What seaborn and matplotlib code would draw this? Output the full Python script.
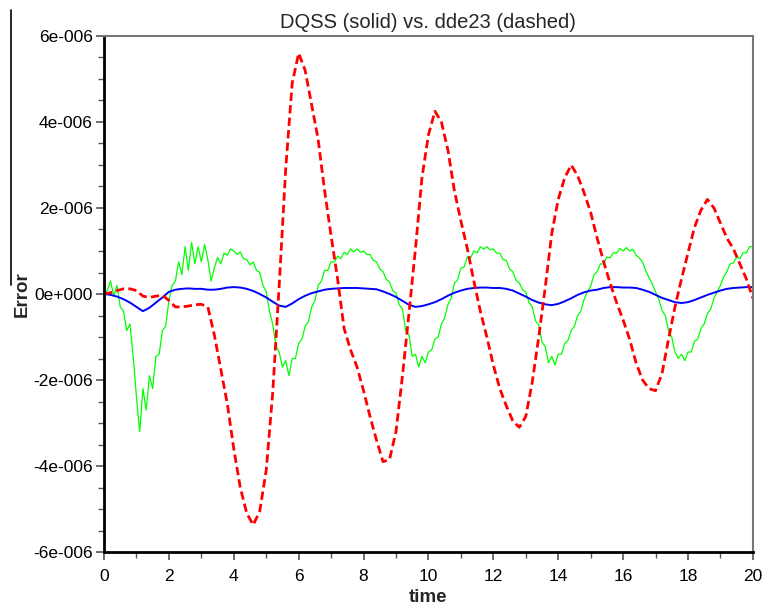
import numpy as np
import seaborn as sns
import matplotlib.pyplot as plt
from matplotlib.ticker import MultipleLocator, FuncFormatter
from matplotlib.lines import Line2D

# time grids
t_coarse = np.round(np.arange(0, 20.0001, 0.2), 2)
t_fine = np.round(np.arange(0, 20.0001, 0.1), 2)

# dde23 error (dashed, red), units of 1e-6, every 0.2
dde23_err = [0, 0.03, 0.08, 0.12, 0.12, 0.08, -0.05, -0.08, -0.05, -0.03,
             -0.15, -0.3, -0.3, -0.28, -0.25, -0.24, -0.3, -0.95, -1.75, -2.55,
             -3.6, -4.5, -5.1, -5.37, -5.05, -4.1, -2.3, 0.2, 2.9, 4.9,
             5.6, 5.2, 4.4, 3.6, 2.4, 1.35, 0.35, -0.8, -1.3, -1.7,
             -2.25, -2.85, -3.4, -3.9, -3.85, -3.2, -1.9, -0.45, 1.05, 2.7,
             3.7, 4.25, 4.0, 3.35, 2.4, 1.7, 1.05, 0.3, -0.4, -1.0,
             -1.65, -2.2, -2.6, -2.95, -3.1, -2.85, -2.05, -1.0, 0.15, 1.4,
             2.2, 2.7, 3.0, 2.75, 2.35, 1.9, 1.3, 0.75, 0.25, -0.2,
             -0.6, -1.05, -1.6, -2.0, -2.2, -2.25, -1.85, -1.05, -0.3, 0.35,
             0.95, 1.55, 1.95, 2.2, 2.0, 1.65, 1.3, 1.05, 0.7, 0.35,
             -0.1]

# DQSS error, second state (solid, blue), every 0.2
dqss_blue = [0, -0.02, -0.06, -0.12, -0.2, -0.3, -0.4, -0.32, -0.2, -0.08,
             0.05, 0.1, 0.12, 0.13, 0.12, 0.12, 0.1, 0.1, 0.12, 0.15,
             0.16, 0.15, 0.12, 0.07, 0.0, -0.08, -0.18, -0.27, -0.3, -0.22,
             -0.12, -0.04, 0.02, 0.06, 0.1, 0.12, 0.13, 0.14, 0.14, 0.14,
             0.13, 0.12, 0.11, 0.06, 0.0, -0.07, -0.16, -0.25, -0.3, -0.28,
             -0.24, -0.19, -0.12, -0.04, 0.03, 0.08, 0.12, 0.14, 0.15, 0.15,
             0.14, 0.14, 0.12, 0.08, 0.01, -0.06, -0.14, -0.2, -0.24, -0.26,
             -0.23, -0.17, -0.1, -0.02, 0.04, 0.08, 0.1, 0.14, 0.16, 0.16,
             0.15, 0.15, 0.14, 0.1, 0.05, -0.02, -0.09, -0.14, -0.19, -0.21,
             -0.19, -0.14, -0.08, -0.02, 0.03, 0.08, 0.12, 0.14, 0.15, 0.16,
             0.16]

# DQSS error, first state (solid, green, noisy), every 0.1
dqss_green = [0, 0.08, 0.3, -0.05, 0.2, -0.3, -0.4, -0.85, -0.7, -1.45,
              -2.4, -3.2, -2.2, -2.7, -1.9, -2.2, -1.45, -1.4, -0.85, -0.75,
              -0.15, 0.2, 0.3, 0.75, 0.45, 1.1, 0.55, 1.2, 0.7, 1.1,
              0.75, 1.15, 0.8, 0.3, 0.6, 0.85, 0.7, 0.95, 0.9, 1.05,
              1.0, 0.92, 0.98, 0.82, 0.8, 0.68, 0.74, 0.55, 0.5, 0.2,
              0.05, -0.4, -0.7, -1.2, -1.35, -1.7, -1.55, -1.9, -1.5, -1.5,
              -1.15, -1.05, -0.75, -0.65, -0.3, -0.15, 0.2, 0.3, 0.55, 0.55,
              0.75, 0.74, 0.88, 0.82, 0.97, 0.92, 1.05, 0.98, 1.05, 0.97,
              1.0, 0.92, 0.92, 0.78, 0.75, 0.58, 0.52, 0.34, 0.28, 0.08,
              0.02, -0.25, -0.35, -0.85, -0.95, -1.45, -1.4, -1.7, -1.45, -1.6,
              -1.35, -1.3, -1.05, -1.0, -0.7, -0.55, -0.25, -0.1, 0.25, 0.33,
              0.6, 0.63, 0.86, 0.84, 1.0, 0.96, 1.1, 1.04, 1.1, 1.03,
              1.05, 0.95, 0.95, 0.8, 0.78, 0.58, 0.52, 0.32, 0.26, 0.1,
              0.05, -0.2, -0.3, -0.62, -0.72, -1.12, -1.22, -1.6, -1.45, -1.65,
              -1.4, -1.4, -1.15, -1.08, -0.85, -0.75, -0.5, -0.4, -0.12, 0.05,
              0.18, 0.44, 0.52, 0.7, 0.7, 0.86, 0.84, 0.96, 0.95, 1.06,
              1.0, 1.08, 1.0, 1.04, 0.9, 0.84, 0.74, 0.54, 0.38, 0.24,
              0.05, -0.12, -0.38, -0.5, -0.85, -1.0, -1.35, -1.5, -1.4, -1.55,
              -1.35, -1.35, -1.1, -1.05, -0.8, -0.7, -0.45, -0.35, -0.1, 0.05,
              0.2, 0.4, 0.52, 0.7, 0.72, 0.86, 0.82, 0.96, 0.96, 1.1,
              1.1]

scale = 1e-6
y_ticks = [-6, -4, -2, 0, 2, 4, 6]


def sci_label(v, pos):
    # old-style 3 digit exponent, e.g. 6e-006 / 0e+000
    if abs(v) < 1e-15:
        return "0e+000"
    exp = int(np.floor(np.log10(abs(v))))
    man = v / 10 ** exp
    sign = "-" if exp < 0 else "+"
    return f"{man:.0f}e{sign}{abs(exp):03d}"


sns.set_style("white")
plt.rcParams['font.family'] = ['Liberation Sans', 'DejaVu Sans']

fig = plt.figure(figsize=(7.62, 6.07), dpi=100)
ax = fig.add_axes([0.1365, 0.0906, 0.8515, 0.8501])

sns.lineplot(x=t_fine, y=np.array(dqss_green) * scale, color='#00ff00',
             linewidth=0.9, ax=ax)
sns.lineplot(x=t_coarse, y=np.array(dqss_blue) * scale, color='#0000ff',
             linewidth=1.4, ax=ax)
sns.lineplot(x=t_coarse, y=np.array(dde23_err) * scale, color='#ff0000',
             linewidth=2.0, linestyle=(0, (3, 1.5)), ax=ax)

ax.set_xlim(0, 20)
ax.set_ylim(-6e-6, 6e-6)
ax.xaxis.set_major_locator(MultipleLocator(2))
ax.xaxis.set_minor_locator(MultipleLocator(1))
ax.set_yticks([v * scale for v in y_ticks])
ax.yaxis.set_minor_locator(MultipleLocator(0.5e-6))
ax.yaxis.set_major_formatter(FuncFormatter(sci_label))

ax.tick_params(axis='both', which='major', direction='out', length=6, width=1.2,
               color='#555555', labelsize=12.5, labelcolor='black')
ax.tick_params(axis='x', which='major', pad=6)
ax.tick_params(axis='y', which='major', pad=2)
ax.tick_params(axis='both', which='minor', direction='out', length=4, width=1.0,
               color='#555555')
ax.tick_params(left=True, bottom=True, top=False, right=False)
ax.tick_params(which='minor', left=True, bottom=True, top=False, right=False)

for side in ['left', 'bottom']:
    ax.spines[side].set_color('black')
    ax.spines[side].set_linewidth(2.0)
for side in ['top', 'right']:
    ax.spines[side].set_color('#777777')
    ax.spines[side].set_linewidth(1.5)

ax.set_title('DQSS (solid) vs. dde23 (dashed)', fontsize=14.5, pad=6)
ax.set_xlabel('time', fontsize=13.5, fontweight='bold', labelpad=4)
ax.set_ylabel('Error', fontsize=13.5, fontweight='bold', labelpad=2)

# stray rule at left edge of the original figure
fig.add_artist(Line2D([11 / 762, 11 / 762], [1 - 10 / 607, 1 - 285 / 607],
                      transform=fig.transFigure, color='black', linewidth=1.2))

fig.savefig('out.png', dpi=100)
